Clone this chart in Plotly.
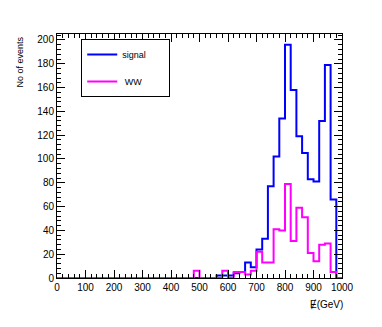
import plotly.graph_objects as go

# histogram binning: 50 bins of 20 GeV from 0 to 1000
bin_edges = list(range(0, 1001, 20))

# bin contents (bins below 480 GeV are empty)
signal_counts = [0] * 28 + [2, 2, 2, 4, 5, 13, 9, 24, 33, 77, 102, 134, 196, 158,
                            119, 105, 83, 81, 132, 179, 66, 0]
ww_counts = [0] * 24 + [6, 0, 0, 0, 0, 6, 0, 5, 5, 3, 6, 22, 13, 13, 41, 40, 79, 31,
                        59, 51, 21, 14, 28, 29, 5, 0]

# trailing no-break spaces widen the legend box like the ROOT TLegend
names = ["signal" + "\u00a0" * 7, " WW"]
colors = ["#0000ff", "#ff00ff"]


def step_xy(edges, counts):
    # outline of a ROOT-style histogram, drop to zero at both ends
    x = [edges[0]] + list(edges)
    y = [0] + list(counts) + [0]
    return x, y


fig = go.Figure()
for counts, name, col in zip([signal_counts, ww_counts], names, colors):
    x, y = step_xy(bin_edges, counts)
    fig.add_trace(go.Scatter(x=x, y=y, mode="lines", line_shape="hv", name=name,
                             legendgroup=name,
                             line=dict(color=col, width=2)))

axis_style = dict(showgrid=False, zeroline=False, showline=True, linecolor="black",
                  linewidth=1, mirror="ticks", ticks="inside", tickcolor="black",
                  tickfont=dict(size=10, color="black"))

fig.update_xaxes(range=[0, 1000], dtick=100, ticklen=8,
                 minor=dict(dtick=20, ticklen=4, ticks="inside", tickcolor="black"),
                 **axis_style)
fig.update_yaxes(range=[0, 205], dtick=20, ticklen=8,
                 minor=dict(dtick=4, ticklen=4, ticks="inside", tickcolor="black"),
                 **axis_style)

fig.add_annotation(text="No of events", textangle=-90, xref="paper", yref="paper",
                   x=-0.13, y=1.0, xanchor="center", yanchor="top", showarrow=False,
                   font=dict(size=9, color="black"))
fig.add_annotation(text="\u0246(GeV)", xref="paper", yref="paper",
                   x=1.01, y=-0.11, xanchor="right", yanchor="middle", showarrow=False,
                   font=dict(size=10, color="black"))

# page body has an 8px margin, so the figure is sized to sit inside the window
fig.update_layout(
    width=374, height=319,
    margin=dict(l=49, r=40, t=26, b=49),
    paper_bgcolor="white", plot_bgcolor="white",
    font=dict(family="Liberation Sans, Arial, sans-serif", size=10, color="black"),
    showlegend=True,
    legend=dict(x=0.085, y=0.98, xanchor="left", yanchor="top",
                bordercolor="black", borderwidth=1, bgcolor="white",
                font=dict(size=9), itemwidth=30, tracegroupgap=8,
                traceorder="grouped"),
)

fig.write_html("out.html")
